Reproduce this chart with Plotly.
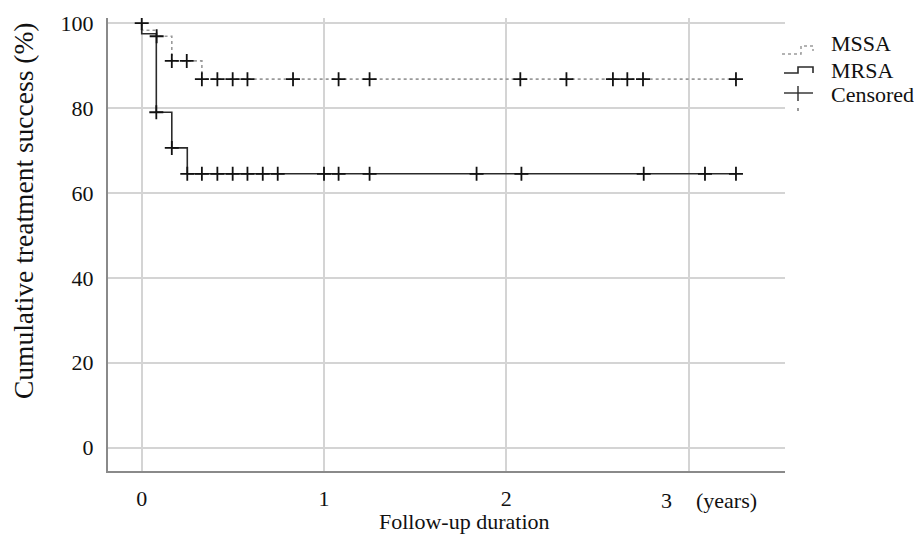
import plotly.graph_objects as go

# ---------------- data ----------------
mssa_t = [0, 0, 0.082, 0.165, 0.33, 3.26]
mssa_s = [100, 98.3, 96.9, 91.1, 86.8, 86.8]
mrsa_t = [0, 0, 0.08, 0.165, 0.25, 3.26]
mrsa_s = [100, 97.5, 79.0, 70.6, 64.5, 64.5]

mssa_cens_t = [0.082, 0.165, 0.247, 0.33, 0.415, 0.499, 0.58, 0.83, 1.08, 1.25,
               2.077, 2.33, 2.585, 2.664, 2.75, 3.26]
mssa_cens_s = [96.9, 91.1, 91.1, 86.8, 86.8, 86.8, 86.8, 86.8, 86.8, 86.8,
               86.8, 86.8, 86.8, 86.8, 86.8, 86.8]
mrsa_cens_t = [0, 0.08, 0.165, 0.25, 0.33, 0.415, 0.499, 0.58, 0.664, 0.746,
               1.0, 1.08, 1.25, 1.837, 2.083, 2.754, 3.09, 3.26]
mrsa_cens_s = [100, 79.0, 70.6, 64.5, 64.5, 64.5, 64.5, 64.5, 64.5, 64.5,
               64.5, 64.5, 64.5, 64.5, 64.5, 64.5, 64.5, 64.5]

x_ticks = [0, 1, 2, 3]
x_ticktext = ["0", "1", "2", ""]
y_ticks = [0, 20, 40, 60, 80, 100]
legend_names = ["MSSA", "MRSA", "Censored"]

FONT = "Liberation Serif, Times New Roman, serif"
W, H = 914, 535
# plot area in page pixels: x 108..785, y 18..471
L, T = 108, 18
R = W - 785
B = H - 471
PW, PH = W - L - R, H - T - B


def px(p):
    """page pixel x -> paper"""
    return (p - L) / PW


def py(p):
    """page pixel y -> paper"""
    return (H - B - p) / PH


fig = go.Figure()
fig.add_trace(go.Scatter(x=mssa_t, y=mssa_s, mode="lines", line_shape="hv",
                         line=dict(color="#9a9a9a", width=1.6, dash="dot"),
                         showlegend=False, hoverinfo="skip"))
fig.add_trace(go.Scatter(x=mrsa_t, y=mrsa_s, mode="lines", line_shape="hv",
                         line=dict(color="#2b2b2b", width=1.6),
                         showlegend=False, hoverinfo="skip"))
fig.add_trace(go.Scatter(x=mssa_cens_t, y=mssa_cens_s, mode="markers",
                         marker=dict(symbol="cross-thin", size=10,
                                     line=dict(color="#111", width=1.8)),
                         showlegend=False))
fig.add_trace(go.Scatter(x=mrsa_cens_t, y=mrsa_cens_s, mode="markers",
                         marker=dict(symbol="cross-thin", size=10,
                                     line=dict(color="#111", width=1.8)),
                         showlegend=False))

shapes = []
# legend icons
shapes.append(dict(type="path", xref="paper", yref="paper",
                   path=f"M {px(782)} {py(54)} L {px(801)} {py(54)} L {px(801)} {py(46)} L {px(813)} {py(46)} L {px(813)} {py(51)}",
                   line=dict(color="#9a9a9a", width=1.5, dash="dot")))
shapes.append(dict(type="path", xref="paper", yref="paper",
                   path=f"M {px(784)} {py(73)} L {px(798)} {py(73)} L {px(798)} {py(67)} L {px(813)} {py(67)} L {px(813)} {py(73)}",
                   line=dict(color="#2b2b2b", width=1.6)))
shapes.append(dict(type="line", xref="paper", yref="paper",
                   x0=px(784), x1=px(813), y0=py(93), y1=py(93),
                   line=dict(color="#2b2b2b", width=1.4)))
shapes.append(dict(type="line", xref="paper", yref="paper",
                   x0=px(798), x1=px(798), y0=py(86), y1=py(101),
                   line=dict(color="#2b2b2b", width=1.4)))
shapes.append(dict(type="line", xref="paper", yref="paper",
                   x0=px(798), x1=px(798), y0=py(108), y1=py(111),
                   line=dict(color="#555", width=1.2)))

annotations = []
for name, yc in zip(legend_names, [44, 70, 95]):
    annotations.append(dict(text=name, xref="paper", yref="paper",
                            x=px(829), y=py(yc), xanchor="left", yanchor="middle",
                            showarrow=False, font=dict(family=FONT, size=22, color="#111")))
annotations.append(dict(text="3", xref="x", yref="paper", x=3, xshift=-22,
                        y=py(500), xanchor="center", yanchor="middle",
                        showarrow=False, font=dict(family=FONT, size=22, color="#111")))
annotations.append(dict(text="(years)", xref="x", yref="paper", x=3, xshift=38,
                        y=py(500), xanchor="center", yanchor="middle",
                        showarrow=False, font=dict(family=FONT, size=22, color="#111")))
annotations.append(dict(text="Follow-up duration", xref="paper", yref="paper",
                        x=px(464), y=py(521), xanchor="center", yanchor="middle",
                        showarrow=False, font=dict(family=FONT, size=22, color="#111")))
annotations.append(dict(text="Cumulative treatment success (%)", xref="paper", yref="paper",
                        x=px(24), y=py(211), xanchor="center", yanchor="middle", textangle=-90,
                        showarrow=False, font=dict(family=FONT, size=27.5, color="#111")))

fig.update_layout(
    width=W, height=H,
    margin=dict(l=L, r=R, t=T, b=B, pad=0),
    paper_bgcolor="white", plot_bgcolor="white",
    font=dict(family=FONT, size=22, color="#111"),
    showlegend=False,
    shapes=shapes, annotations=annotations,
    xaxis=dict(range=[-0.185, 3.529], tickvals=x_ticks, ticktext=x_ticktext,
               showgrid=True, gridcolor="#d4d4d4", gridwidth=1.5,
               showline=True, linecolor="#8a8a8a", linewidth=2,
               zeroline=False, ticks="", ticklabelstandoff=7),
    yaxis=dict(range=[-5.5, 101.2], tickvals=y_ticks,
               showgrid=True, gridcolor="#d4d4d4", gridwidth=1.5,
               showline=True, linecolor="#8a8a8a", linewidth=2,
               zeroline=False, ticks="", ticklabelstandoff=8),
)

fig.write_html("out.html", config={"displayModeBar": False},
               post_script="document.body.style.margin='0px';")
